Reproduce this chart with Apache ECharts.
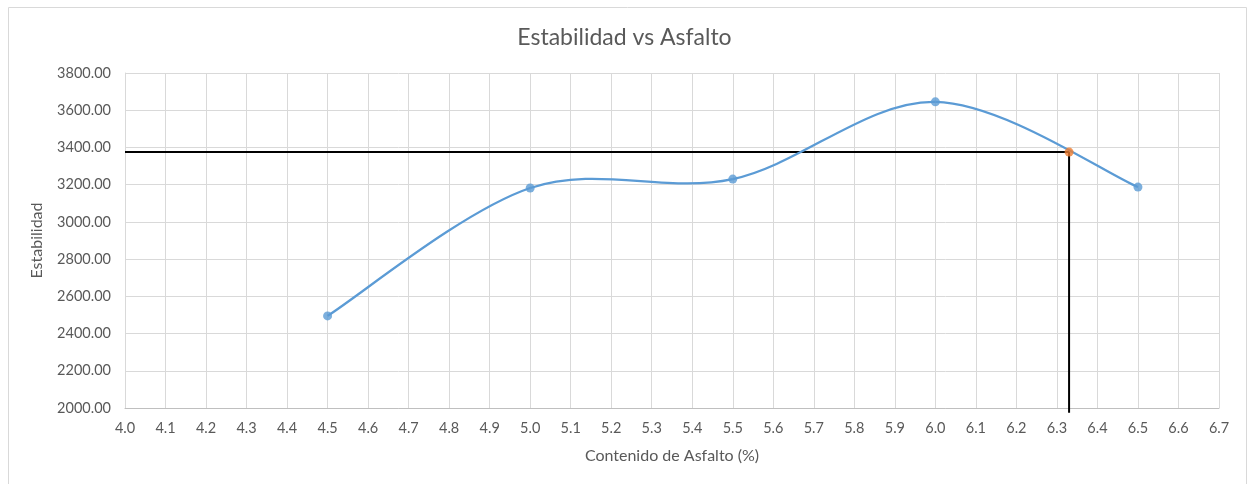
<!DOCTYPE html>
<html>
<head>
<meta charset="utf-8">
<script src="https://cdn.jsdelivr.net/npm/echarts@6/dist/echarts.min.js"></script>
<style>
  html, body { margin: 0; padding: 0; background: #fff; }
  #chart { width: 1249px; height: 484px; }
</style>
</head>
<body>
<div id="chart"></div>
<script>
// Asphalt content (%) and Marshall stability measured per specimen
const asfalto = [4.5, 5.0, 5.5, 6.0, 6.5];
const estabilidad = [2495, 3182, 3230, 3645, 3187];

const optimoAsfalto = 6.33;
const optimoEstabilidad = 3375;

const xMin = 4.0, xMax = 6.7, xStep = 0.1;
const yMin = 2000, yMax = 3800, yStep = 200;

const FONT = 'Lato, "Open Sans", sans-serif';
const TEXT = '#595959';
const BLUE = '#5b9bd5';

// Smoothed segment from point i to i+1 (cardinal spline, 1/6 tangent scale)
function renderSegment(params, api) {
  const i = params.dataIndex;
  const n = asfalto.length;
  if (i >= n - 1) return null;
  const p = k => {
    const j = Math.max(0, Math.min(n - 1, k));
    return api.coord([asfalto[j], estabilidad[j]]);
  };
  const p0 = p(i - 1), p1 = p(i), p2 = p(i + 1), p3 = p(i + 2);
  return {
    type: 'bezierCurve',
    shape: {
      x1: p1[0], y1: p1[1],
      cpx1: p1[0] + (p2[0] - p0[0]) / 6, cpy1: p1[1] + (p2[1] - p0[1]) / 6,
      cpx2: p2[0] - (p3[0] - p1[0]) / 6, cpy2: p2[1] - (p3[1] - p1[1]) / 6,
      x2: p2[0], y2: p2[1]
    },
    style: { stroke: BLUE, lineWidth: 2.25, fill: 'none' }
  };
}

const chart = echarts.init(document.getElementById('chart'));
chart.setOption({
  animation: false,
  graphic: [{
    type: 'rect',
    shape: { x: 8.5, y: 7.5, width: 1238, height: 500 },
    style: { fill: 'none', stroke: '#d9d9d9', lineWidth: 1 },
    silent: true
  }],
  title: {
    text: 'Estabilidad vs Asfalto',
    left: 'center',
    top: 21,
    textStyle: { fontFamily: FONT, fontSize: 23, fontWeight: 'normal', color: TEXT }
  },
  grid: { left: 125, right: 30, top: 73, bottom: 76 },
  xAxis: {
    type: 'value',
    min: xMin, max: xMax, interval: xStep,
    name: 'Contenido de Asfalto (%)',
    nameLocation: 'middle',
    nameGap: 40,
    nameTextStyle: { fontFamily: FONT, fontSize: 16, color: TEXT },
    axisLine: { show: true, lineStyle: { color: '#bfbfbf' } },
    axisTick: { show: false },
    axisLabel: {
      fontFamily: FONT, fontSize: 14.5, color: TEXT, margin: 13,
      formatter: v => v.toFixed(1)
    },
    splitLine: { show: true, lineStyle: { color: '#d9d9d9' } }
  },
  yAxis: {
    type: 'value',
    min: yMin, max: yMax, interval: yStep,
    name: 'Estabilidad',
    nameLocation: 'middle',
    nameGap: 80,
    nameTextStyle: { fontFamily: FONT, fontSize: 16, color: TEXT },
    axisLine: { show: true, lineStyle: { color: '#d9d9d9' } },
    axisTick: { show: false },
    axisLabel: {
      fontFamily: FONT, fontSize: 14.5, color: TEXT, margin: 14,
      formatter: v => v.toFixed(2)
    },
    splitLine: { show: true, lineStyle: { color: '#d9d9d9' } }
  },
  series: [
    {
      type: 'line',
      data: [[xMin, optimoEstabilidad], [optimoAsfalto, optimoEstabilidad], [optimoAsfalto, yMin - 25]],
      showSymbol: false,
      lineStyle: { color: '#000', width: 2 },
      clip: false,
      z: 3
    },
    {
      type: 'custom',
      data: asfalto.map((x, i) => [x, estabilidad[i]]),
      renderItem: renderSegment,
      encode: { x: 0, y: 1 },
      z: 4
    },
    {
      type: 'scatter',
      data: asfalto.map((x, i) => [x, estabilidad[i]]),
      symbolSize: 9,
      itemStyle: { color: BLUE },
      z: 5
    },
    {
      type: 'scatter',
      data: [[optimoAsfalto, optimoEstabilidad]],
      symbolSize: 9,
      itemStyle: { color: '#ed7d31' },
      z: 6
    }
  ]
});
</script>
</body>
</html>
